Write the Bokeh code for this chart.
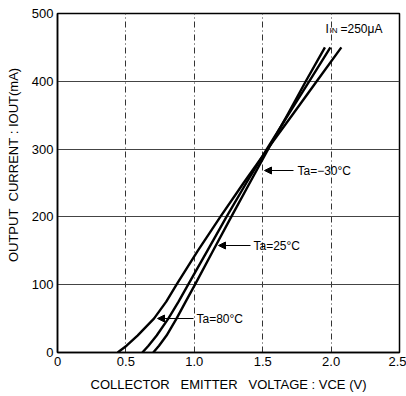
from bokeh.plotting import figure
from bokeh.models import Label, Arrow, NormalHead, FixedTicker, Range1d
from bokeh.embed import file_html
from bokeh.resources import INLINE

# Data (I_OUT in mA vs V_CE in V), I_IN = 250 uA
current = [0, 10, 25, 50, 75, 100, 150, 200, 250, 300, 350, 400, 450]
v_80 = [0.44, 0.505, 0.585, 0.705, 0.795, 0.87, 1.025, 1.19, 1.36, 1.535, 1.715, 1.895, 2.075]
v_25 = [0.62, 0.665, 0.725, 0.81, 0.885, 0.955, 1.095, 1.235, 1.38, 1.53, 1.685, 1.84, 1.995]
v_m30 = [0.70, 0.742, 0.797, 0.87, 0.937, 1.005, 1.137, 1.27, 1.405, 1.54, 1.68, 1.815, 1.955]

x_ticks = [0, 0.5, 1.0, 1.5, 2.0, 2.5]
x_tick_labels = ["0", "0.5", "1.0", "1.5", "2.0", "2.5"]
y_ticks = [0, 100, 200, 300, 400, 500]

FONT = "Liberation Sans"
FL, FB = 57, 352   # frame left / bottom in canvas pixels
NB = "\u00a0"

p = figure(width=406, height=396, output_backend="svg", toolbar_location=None,
           x_range=Range1d(0, 2.5), y_range=Range1d(0, 500),
           min_border_left=57, min_border_right=7, min_border_top=13, min_border_bottom=44)
p.background_fill_color = "white"
p.border_fill_color = "white"
p.outline_line_color = "black"
p.outline_line_width = 1.5

for ax in (p.xaxis[0], p.yaxis[0]):
    ax.axis_line_color = "black"
    ax.axis_line_width = 1.5
    ax.major_tick_in = 0
    ax.major_tick_out = 0
    ax.minor_tick_line_color = None
    ax.major_label_text_font = FONT
    ax.major_label_text_font_size = "13px"
    ax.major_label_text_color = "black"
    ax.major_label_standoff = 4
    ax.axis_label_text_font = FONT
    ax.axis_label_text_font_size = "13px"
    ax.axis_label_text_font_style = "normal"
    ax.axis_label_text_color = "black"

p.xaxis.ticker = FixedTicker(ticks=x_ticks)
p.xaxis.major_label_overrides = {t: l for t, l in zip(x_ticks, x_tick_labels)}
p.yaxis.ticker = FixedTicker(ticks=y_ticks)

p.xaxis.axis_label = ("COLLECTOR" + NB * 3 + "EMITTER" + NB * 3 + "VOLTAGE" + NB + ":" + NB
                      + "VCE" + NB + "(V)")
p.xaxis.axis_label_standoff = 8
p.yaxis.axis_label = NB * 10 + "OUTPUT" + NB * 2 + "CURRENT" + NB + ":" + NB + "IOUT(mA)"
p.yaxis.axis_label_standoff = 8

p.ygrid.grid_line_color = "#444444"
p.ygrid.grid_line_width = 1
p.xgrid.grid_line_color = "#333333"
p.xgrid.grid_line_width = 1
p.xgrid.grid_line_dash = "6 3 1 3"

for v in (v_80, v_25, v_m30):
    p.line(v, current, line_color="black", line_width=2.4, line_join="round")

px_v = 2.5 / 342.0   # volts per screen pixel
px_i = 500 / 339.0   # mA per screen pixel
def X(px):
    return (px - FL) * px_v
def Y(py):
    return (FB - py) * px_i

def lab(x, y, t, size="13px"):
    p.add_layout(Label(x=x, y=y, text=t, text_font=FONT, text_font_size=size,
                       text_color="black", text_align="left", text_baseline="middle"))

# Temperature annotations with arrows
anns = [("Ta=−30°C", 297, 293, 264, 170),
        ("Ta=25°C", 253, 250, 218, 245),
        ("Ta=80°C", 196, 193, 157, 318)]
for t, tx, ax0, ax1, ay in anns:
    p.add_layout(Arrow(x_start=X(ax0), y_start=Y(ay), x_end=X(ax1), y_end=Y(ay),
                       line_color="black", line_width=1.2,
                       end=NormalHead(size=7, fill_color="black", line_color="black")))
    lab(X(tx), Y(ay), t, size="12px")

# I_IN label
lab(X(325), Y(28), "I", size="12px")
lab(X(329), Y(29.5), "IN", size="8px")
lab(X(340), Y(28), "=250μA", size="12px")

open("out.html", "w").write(file_html(p, INLINE))
